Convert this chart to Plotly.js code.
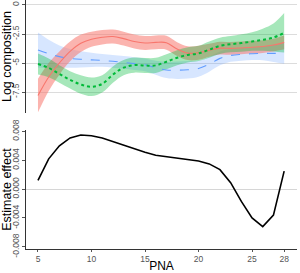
<!DOCTYPE html>
<html><head><meta charset="utf-8">
<script src="https://cdn.plot.ly/plotly-3.0.1.min.js"></script>
<style>html,body{margin:0;padding:0;background:#fff}#chart{width:300px;height:273px}</style>
</head><body><div id="chart"></div>
<script>
const pna = [5,6,7,8,9,10,11,12,13,14,15,16,17,18,19,20,21,22,23,24,25,26,27,28];
const redFit  = [-7.8,-6.2,-5.0,-4.0,-3.3,-2.95,-2.78,-2.72,-2.9,-3.15,-3.28,-3.22,-3.25,-3.8,-4.15,-4.12,-3.9,-3.72,-3.74,-3.7,-3.64,-3.58,-3.45,-3.22];
const redHalf = [1.45,1.2,1.0,0.85,0.75,0.65,0.62,0.6,0.6,0.6,0.6,0.6,0.6,0.6,0.6,0.6,0.55,0.55,0.55,0.55,0.55,0.55,0.55,0.6];
const greenFit  = [-5.09,-5.42,-5.95,-6.45,-6.85,-7.05,-6.8,-6.0,-5.4,-5.18,-5.22,-5.2,-4.89,-4.55,-4.3,-4.17,-3.85,-3.52,-3.38,-3.28,-3.15,-3.0,-2.8,-2.4];
const greenHalf = [0.9,0.8,0.75,0.75,0.8,0.8,0.75,0.7,0.65,0.65,0.65,0.65,0.65,0.65,0.65,0.65,0.7,0.7,0.7,0.75,0.8,0.95,1.2,1.7];
const blueFit  = [-3.88,-4.2,-4.45,-4.6,-4.68,-4.73,-4.78,-4.85,-4.95,-5.05,-5.15,-5.4,-5.6,-5.62,-5.58,-5.48,-5.1,-4.6,-4.35,-4.25,-4.2,-4.17,-4.17,-4.17];
const blueHalf = [1.5,1.2,0.95,0.8,0.7,0.62,0.55,0.55,0.55,0.55,0.55,0.6,0.7,0.75,0.75,0.7,0.65,0.6,0.55,0.55,0.55,0.6,0.75,0.9];
const effect = [0.0012,0.0042,0.0060,0.0071,0.0075,0.0074,0.0071,0.0066,0.0060,0.0055,0.0051,0.0047,0.0045,0.0043,0.0041,0.0039,0.0035,0.0027,0.0009,-0.0017,-0.0040,-0.0052,-0.0036,0.0025];
const topTicks = [0,-2.5,-5,-7.5];
const topTickText = ['0','-2.5','-5','-7.5'];
const botTicks = [-0.008,-0.004,0,0.004,0.008];
const botTickText = ['-0.008','-0.004','0.000','0.004','0.008'];
const xTicks = [5,10,15,20,25,28];

function band(fit, half, fill){
  const lo = fit.map((v,i)=>v-half[i]);
  const hi = fit.map((v,i)=>v+half[i]);
  return [
    {x:pna,y:lo,type:'scatter',mode:'lines',line:{width:0,shape:'spline'},hoverinfo:'skip',showlegend:false,xaxis:'x',yaxis:'y'},
    {x:pna,y:hi,type:'scatter',mode:'lines',line:{width:0,shape:'spline'},fill:'tonexty',fillcolor:fill,hoverinfo:'skip',showlegend:false,xaxis:'x',yaxis:'y'}
  ];
}
const traces = [].concat(
  band(blueFit, blueHalf, 'rgba(97,156,255,0.25)'),
  band(redFit, redHalf, 'rgba(248,118,109,0.55)'),
  band(greenFit, greenHalf, 'rgba(0,186,56,0.35)'),
  [
    {x:pna,y:blueFit,type:'scatter',mode:'lines',line:{color:'#619CFF',width:1.1,dash:'dash',shape:'spline'},showlegend:false,xaxis:'x',yaxis:'y'},
    {x:pna,y:redFit,type:'scatter',mode:'lines',line:{color:'#F8766D',width:1.1,shape:'spline'},showlegend:false,xaxis:'x',yaxis:'y'},
    {x:pna,y:greenFit,type:'scatter',mode:'lines',line:{color:'#00BA38',width:2,dash:'dot',shape:'spline'},showlegend:false,xaxis:'x',yaxis:'y'},
    {x:pna,y:effect,type:'scatter',mode:'lines',line:{color:'#000',width:1.6},showlegend:false,xaxis:'x2',yaxis:'y2'}
  ]
);
const tickFont = {family:'Liberation Sans, Arial, sans-serif',size:8.5,color:'#555'};
const titleFont = {family:'Liberation Sans, Arial, sans-serif',size:12.5,color:'#000'};
const layout = {
  width:300,height:273,
  margin:{l:26,r:3,t:0,b:24},
  paper_bgcolor:'#fff',plot_bgcolor:'#fff',
  font:{family:'Liberation Sans, Arial, sans-serif'},
  xaxis:{anchor:'y',domain:[0,1],range:[3.88,29.2],showticklabels:false,showgrid:false,zeroline:false,showline:false,ticks:''},
  xaxis2:{anchor:'y2',domain:[0,1],range:[3.88,29.2],tickvals:xTicks,ticktext:xTicks.map(String),tickfont:tickFont,
    showgrid:false,zeroline:false,showline:true,linecolor:'#333',linewidth:1,ticks:'outside',ticklen:2,tickcolor:'#555',
    title:{text:'PNA',font:{family:'Liberation Sans, Arial, sans-serif',size:12,color:'#000'},standoff:0},automargin:false},
  yaxis:{domain:[0.546,1],range:[-9.31,0.43],tickvals:topTicks,ticktext:topTickText,tickangle:-90,tickfont:tickFont,
    showgrid:true,gridcolor:'#dcdcdc',gridwidth:1,zeroline:false,showline:true,linecolor:'#333',linewidth:1,
    ticks:'outside',ticklen:3,tickcolor:'#555',title:{text:'Log composition',font:titleFont,standoff:3},automargin:false},
  yaxis2:{domain:[0,0.478],range:[-0.0083,0.0082],tickvals:botTicks,ticktext:botTickText,tickangle:-90,tickfont:tickFont,
    showgrid:false,zeroline:true,zerolinecolor:'#d6d6d6',zerolinewidth:1,showline:true,linecolor:'#333',linewidth:1,
    ticks:'outside',ticklen:3,tickcolor:'#555',title:{text:'Estimate effect',font:titleFont,standoff:3},automargin:false}
};
Plotly.newPlot('chart',traces,layout,{displayModeBar:false,staticPlot:true});
</script>
</body></html>
